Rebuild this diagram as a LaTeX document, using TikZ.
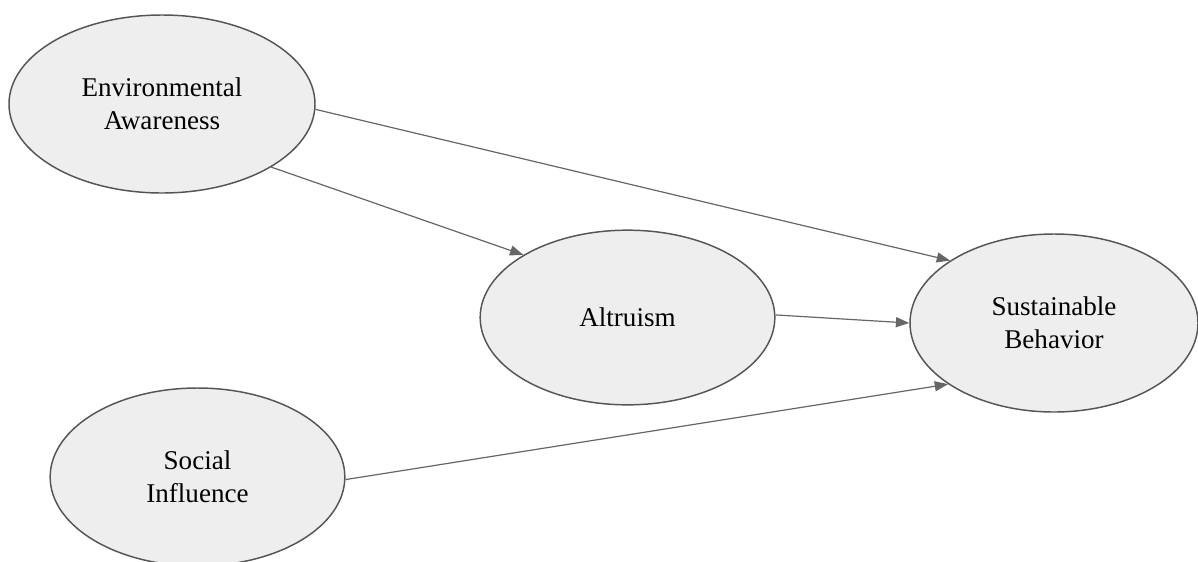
\documentclass[tikz,border=0pt]{standalone}
\usepackage{fontspec}
\setmainfont{Liberation Serif}
\usetikzlibrary{shapes.geometric,arrows.meta}
\definecolor{nodefill}{HTML}{EEEEEE}
\definecolor{nodeline}{HTML}{555555}
\definecolor{arrowcol}{HTML}{666666}
\tikzset{
  construct/.style={ellipse, draw=nodeline, fill=nodefill, line width=1.1pt, inner sep=0pt,
    align=center, font=\fontsize{20.3}{24.75}\selectfont, text=black},
  path arrow/.style={draw=arrowcol, line width=0.9pt, -{Triangle[length=10pt,width=7.5pt]}}
}
\begin{document}
\begin{tikzpicture}[x=0.75pt,y=-0.75pt]
\useasboundingbox (0,0) rectangle (1198,561);
\clip (0,0) rectangle (1198,561);
\fill[white] (0,0) rectangle (1198,561);
\node[construct, minimum width=229.5pt, minimum height=133.5pt] (ea) at (162,104) {Environmental\\Awareness};
\node[construct, minimum width=221pt, minimum height=131pt] (alt) at (627.5,317.5) {Altruism};
\node[construct, minimum width=216pt, minimum height=133.5pt] (sb) at (1054,323) {Sustainable\\Behavior};
\node[construct, minimum width=221pt, minimum height=133.5pt] (si) at (197.5,477) {Social\\Influence};
\draw[path arrow] (ea.-2) -- (sb.149);
\draw[path arrow] (ea.-30) -- (alt.149);
\draw[path arrow] (alt.1) -- (sb.180);
\draw[path arrow] (si.-1) -- (sb.210);
\end{tikzpicture}
\end{document}
